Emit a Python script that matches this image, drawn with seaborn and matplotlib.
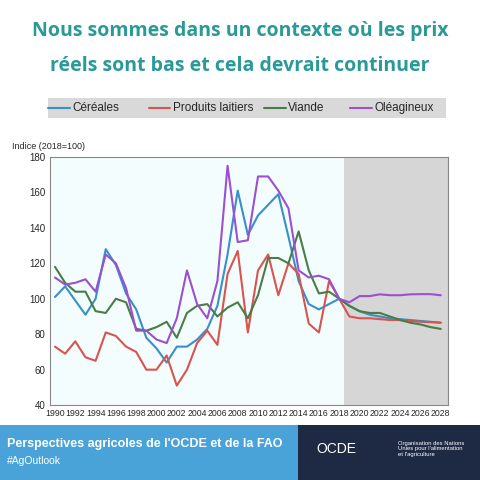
import matplotlib
matplotlib.use("Agg")
import matplotlib.pyplot as plt
import seaborn as sns
import pandas as pd
from matplotlib.patches import Rectangle

years = list(range(1990, 2029))
cereales = [101,107,99,91,100,128,119,103,94,78,72,64,73,73,77,83,96,125,161,136,147,153,159,135,110,97,94,97,100,96,93,91,90,89,88.5,88,87.5,87,86.5]
laitiers = [73,69,76,67,65,81,79,73,70,60,60,68,51,60,75,82,74,114,127,81,116,125,102,120,114,86,81,110,100,90,89,89,88.5,88,88,87.5,87,86.8,86.5]
viande = [118,109,104,104,93,92,100,98,83,82,84,87,78,92,96,97,90,95,98,89,102,123,123,120,138,116,103,104,100,96,93,92,92,90,88,86.5,85.5,84,83]
oleagineux = [112,108,109,111,104,125,120,106,82,82,77,75,89,116,97,89,110,175,132,133,169,169,161,151,116,112,113,111,100,98,101.5,101.5,102.5,102,102,102.5,102.6,102.6,102]
series = {"Céréales": cereales, "Produits laitiers": laitiers, "Viande": viande, "Oléagineux": oleagineux}
colors = {"Céréales": "#3a8fc9", "Produits laitiers": "#d9534f", "Viande": "#4a7d45", "Oléagineux": "#9b4fd1"}

df = pd.DataFrame([(y, k, v) for k, vals in series.items() for y, v in zip(years, vals)],
                  columns=["year", "serie", "value"])

sns.set_style("white")
plt.rcParams['font.family'] = ['Liberation Sans', 'DejaVu Sans']
fig = plt.figure(figsize=(4.8, 4.8), dpi=100)
fig.patch.set_facecolor("white")
ax = fig.add_axes([0.104, 0.156, 0.829, 0.517])
ax.set_facecolor("#f4fdfd")
ax.axvspan(2018.5, 2028.7, color="#d6d6d6", zorder=0, lw=0)
sns.lineplot(data=df, x="year", y="value", hue="serie", palette=colors, ax=ax, lw=1.5, legend=False)
ax.set_xlim(1989.5, 2028.7)
ax.set_ylim(40, 180)
ax.set_xticks(range(1990, 2029, 2))
ax.set_yticks(range(40, 181, 20))
ax.tick_params(axis="x", labelsize=6.3, length=0, pad=3)
ax.tick_params(axis="y", labelsize=7, length=0, pad=3)
ax.set_xlabel(""); ax.set_ylabel("")
for s in ax.spines.values():
    s.set_color("#888888"); s.set_linewidth(0.8)
fig.text(0.025, 0.69, "Indice (2018=100)", fontsize=6.5)

# legend band
fig.patches.append(Rectangle((0.1, 0.755), 0.83, 0.04, transform=fig.transFigure, color="#d9d9d9", lw=0))
lx = [0.15, 0.36, 0.60, 0.78]
for x0, (k, c) in zip(lx, colors.items()):
    fig.lines.append(plt.Line2D([x0 - 0.05, x0 - 0.005], [0.775, 0.775], transform=fig.transFigure, color=c, lw=1.5))
    fig.text(x0, 0.775, k, fontsize=8.5, va="center")

fig.text(0.5, 0.935, "Nous sommes dans un contexte où les prix", ha="center", va="center",
         fontsize=14, color="#2a9a98", fontweight="bold", family="Open Sans")
fig.text(0.5, 0.862, "réels sont bas et cela devrait continuer", ha="center", va="center",
         fontsize=14, color="#2a9a98", fontweight="bold", family="Open Sans")

# footer
fig.patches.append(Rectangle((0, 0), 1, 0.115, transform=fig.transFigure, color="#4aa3d8", lw=0))
fig.patches.append(Rectangle((0.62, 0), 0.38, 0.115, transform=fig.transFigure, color="#1e2a44", lw=0))
fig.text(0.015, 0.075, "Perspectives agricoles de l'OCDE et de la FAO", color="white", fontsize=9, fontweight="bold", va="center")
fig.text(0.015, 0.04, "#AgOutlook", color="white", fontsize=7.5, va="center")
fig.text(0.66, 0.065, "OCDE", color="white", fontsize=10, va="center")
fig.text(0.83, 0.065, "Organisation des Nations\nUnies pour l'alimentation\net l'agriculture", color="white", fontsize=4.2, va="center")
fig.savefig("out.png", dpi=100)
